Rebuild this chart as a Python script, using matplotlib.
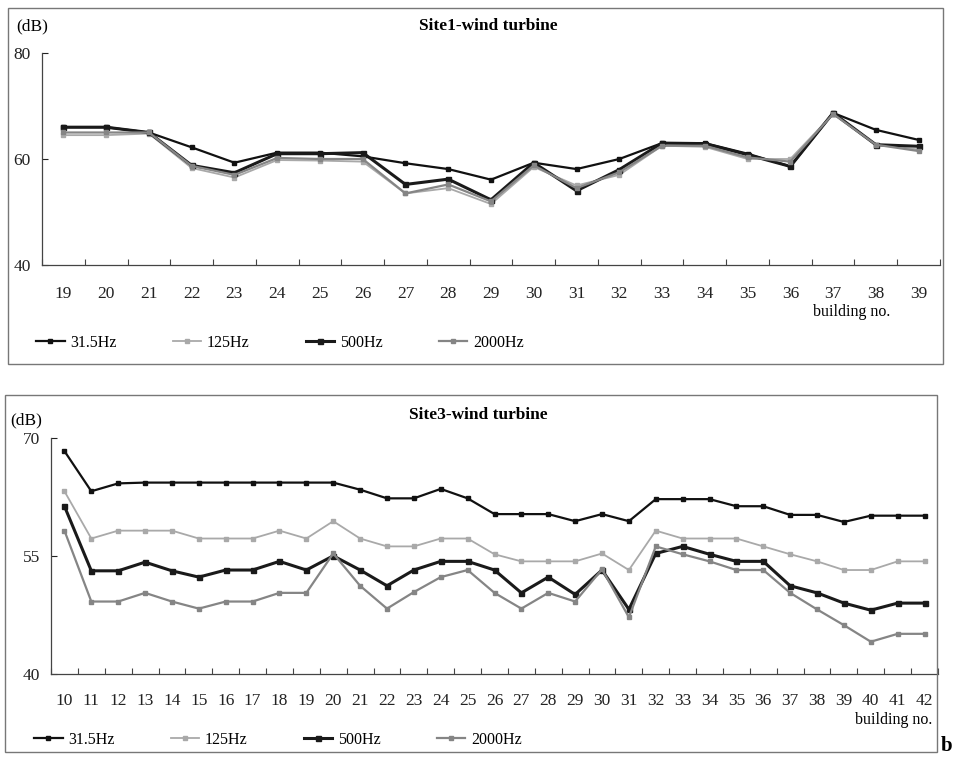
import matplotlib
matplotlib.use('Agg')
import matplotlib.pyplot as plt
from matplotlib.patches import Rectangle

# Site1 data (building 19-39)
site1_buildings = list(range(19, 40))
site1_315 = [66, 66, 65, 62.2, 59.3, 61.2, 61.2, 60.5, 59.2, 58.1, 56.1, 59.3, 58.1, 60, 63, 63, 61, 58.6, 68.7, 65.5, 63.6]
site1_125 = [64.5, 64.5, 64.8, 58.3, 56.5, 59.8, 59.7, 59.5, 53.5, 54.5, 51.5, 58.5, 55, 57, 62.5, 62.3, 60, 60, 68.5, 62.7, 61.8]
site1_500 = [66, 66, 65, 58.8, 57.4, 61, 61, 61.2, 55.2, 56.2, 52.3, 59.3, 54, 58, 63, 62.9, 60.8, 58.6, 68.7, 62.7, 62.4]
site1_2000 = [65, 65, 65, 58.7, 57, 60.2, 60, 60, 53.5, 55.2, 52, 58.8, 54.5, 57.5, 62.5, 62.5, 60.3, 59.5, 68.5, 62.7, 61.5]

# Site3 data (building 10-42)
site3_buildings = list(range(10, 43))
site3_315 = [68.3, 63.2, 64.2, 64.3, 64.3, 64.3, 64.3, 64.3, 64.3, 64.3, 64.3, 63.4, 62.3, 62.3, 63.5, 62.3,
             60.3, 60.3, 60.3, 59.4, 60.3, 59.4, 62.2, 62.2, 62.2, 61.3, 61.3, 60.2, 60.2, 59.3, 60.1, 60.1, 60.1]
site3_125 = [63.2, 57.2, 58.2, 58.2, 58.2, 57.2, 57.2, 57.2, 58.2, 57.2, 59.4, 57.2, 56.2, 56.2, 57.2, 57.2,
             55.2, 54.3, 54.3, 54.3, 55.3, 53.2, 58.2, 57.2, 57.2, 57.2, 56.2, 55.2, 54.3, 53.2, 53.2, 54.3, 54.3]
site3_500 = [61.3, 53.1, 53.1, 54.2, 53.1, 52.3, 53.2, 53.2, 54.3, 53.2, 55.0, 53.2, 51.2, 53.2, 54.3, 54.3,
             53.2, 50.3, 52.3, 50.1, 53.2, 48.2, 55.3, 56.2, 55.2, 54.3, 54.3, 51.2, 50.3, 49.0, 48.1, 49.0, 49.0]
site3_2000 = [58.2, 49.2, 49.2, 50.3, 49.2, 48.3, 49.2, 49.2, 50.3, 50.3, 55.3, 51.2, 48.3, 50.4, 52.3, 53.2,
              50.3, 48.3, 50.3, 49.2, 53.3, 47.2, 56.2, 55.2, 54.3, 53.2, 53.2, 50.3, 48.2, 46.2, 44.1, 45.1, 45.1]

series_labels = ['31.5Hz', '125Hz', '500Hz', '2000Hz']
series_styles = [
    dict(color='#111111', lw=1.6, marker='s', ms=3.5),
    dict(color='#a9a9a9', lw=1.3, marker='s', ms=3.5),
    dict(color='#1a1a1a', lw=2.2, marker='s', ms=3.6),
    dict(color='#858585', lw=1.6, marker='s', ms=3.5),
]

W, H = 958, 758
plt.rcParams['font.family'] = ['Liberation Serif', 'DejaVu Serif']
fig = plt.figure(figsize=(W / 100, H / 100), dpi=100)


def box(x0, y0, x1, y1):
    # pixel box (top-left origin) -> figure fraction rect
    return [x0 / W, 1 - y1 / H, (x1 - x0) / W, (y1 - y0) / H]


def fxy(x, y):
    return x / W, 1 - y / H


def draw_panel(rect, frame, buildings, data, ylim, yticks, title, title_xy, db_xy, bno_xy, bno_ha, leg_xy, pad):
    fig.patches.append(Rectangle((frame[0] / W, 1 - frame[3] / H), (frame[2] - frame[0]) / W,
                                 (frame[3] - frame[1]) / H, transform=fig.transFigure,
                                 fill=False, edgecolor='#777777', lw=1.0))
    ax = fig.add_axes(box(*rect))
    n = len(buildings)
    idx = list(range(n))
    lines = []
    for vals, st, lab in zip(data, series_styles, series_labels):
        ln, = ax.plot(idx, vals, label=lab, **st)
        lines.append(ln)
    ax.set_xlim(-0.5, n - 0.5)
    ax.set_ylim(*ylim)
    ax.set_yticks(yticks)
    ax.set_xticks(idx)
    ax.set_xticklabels([str(b) for b in buildings])
    ax.set_xticks([i - 0.5 for i in range(n + 1)], minor=True)
    ax.tick_params(axis='x', which='major', length=0, pad=pad, labelsize=12.5, colors='#222222')
    ax.tick_params(axis='x', which='minor', direction='in', length=4, width=0.8, color='#444444')
    ax.tick_params(axis='y', direction='in', length=4, width=0.8, labelsize=12.5, pad=8, colors='#222222')
    for s in ['top', 'right']:
        ax.spines[s].set_visible(False)
    for s in ['left', 'bottom']:
        ax.spines[s].set_color('#444444')
        ax.spines[s].set_linewidth(0.9)
    ax.set_facecolor('none')

    fig.text(*fxy(*title_xy), title, ha='center', va='center', fontsize=12.5, fontweight='bold')
    fig.text(*fxy(*db_xy), '(dB)', ha='left', va='center', fontsize=12.5)
    fig.text(*fxy(*bno_xy), 'building no.', ha=bno_ha, va='center', fontsize=11.5)
    fig.legend(handles=lines, loc='center left', bbox_to_anchor=fxy(*leg_xy), ncol=4, frameon=False,
               fontsize=11.5, handlelength=1.8, handletextpad=0.35, columnspacing=3.5,
               borderpad=0, borderaxespad=0)
    return ax


draw_panel((42, 53, 940, 265), (8, 8, 943, 364), site1_buildings,
           [site1_315, site1_125, site1_500, site1_2000], (40, 80), [40, 60, 80],
           'Site1-wind turbine', (488, 26), (16, 26), (852, 312), 'center', (36, 343), 15)

draw_panel((51, 437.7, 938, 674), (5, 395, 937, 752), site3_buildings,
           [site3_315, site3_125, site3_500, site3_2000], (40, 70), [40, 55, 70],
           'Site3-wind turbine', (478, 415), (10, 420), (932, 720), 'right', (34, 740), 14)

fig.text(*fxy(947, 746), 'b', ha='center', va='center', fontsize=15, fontweight='bold')

fig.savefig('out.png', dpi=100, facecolor='white')
